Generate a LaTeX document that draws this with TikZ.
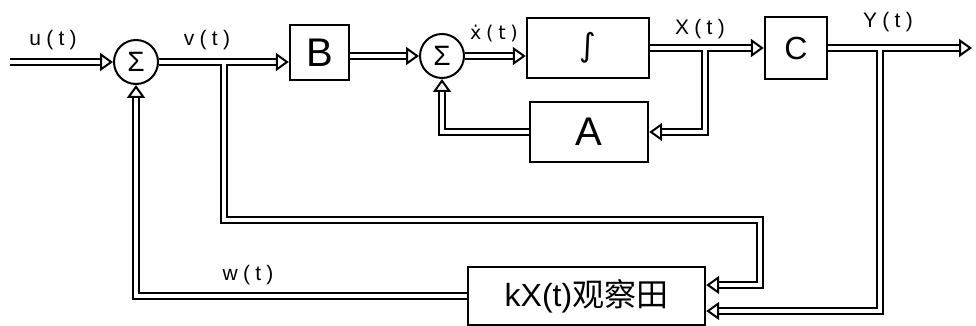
\documentclass[tikz,border=0pt]{standalone}
\usepackage{fontspec}
\setmainfont{Liberation Sans}
\newfontfamily\cjk{Noto Sans CJK SC}
\newfontfamily\dvs{DejaVu Sans}
\newfontfamily\lab[LetterSpace=25]{Liberation Sans}
\newfontfamily\dlab[LetterSpace=25]{DejaVu Sans}
\usetikzlibrary{arrows.meta}
\tikzset{
  shaft/.style={draw=black, line width=2.2pt, double=white, double distance=3.2pt, shorten >=11pt},
  tipov/.style={draw=white, line width=1pt, -{Triangle[color=black, fill=white, line width=2pt, length=13pt, width=18pt]}},
  blk/.style={draw, line width=2.4pt, inner sep=0pt},
  sumnode/.style={circle, draw, line width=2pt, minimum size=44pt, inner sep=0pt, font=\fontsize{28}{28}\selectfont},
  siglab/.style={font=\lab\fontsize{21}{21}\selectfont, inner sep=0pt}
}
\newcommand\sigline[1]{\draw[shaft] #1; \draw[tipov] #1;}
\begin{document}
\begin{tikzpicture}[x=1pt, y=-1pt]
\useasboundingbox[fill=white] (0,0) rectangle (976,326);
% blocks
\node[sumnode] (s1) at (136,62) {Σ};
\node[blk, minimum width=59pt, minimum height=55pt, font=\fontsize{40}{40}\selectfont] (B) at (319.5,52.5) {B};
\node[sumnode] (s2) at (442,56) {Σ};
\node[blk, minimum width=122pt, minimum height=60pt, font=\dvs\fontsize{32}{32}\selectfont] (I) at (588,48) {∫};
\node[blk, minimum width=118pt, minimum height=60pt, font=\fontsize{40}{40}\selectfont] (A) at (589,132) {A};
\node[blk, minimum width=62pt, minimum height=62pt, font=\fontsize{32}{32}\selectfont] (C) at (796,48) {C};
\node[blk, minimum width=237pt, minimum height=58pt, font=\fontsize{32}{32}\selectfont] (O) at (586.5,296) {kX(t)\cjk 观察田\hspace{14pt}};
% coordinates
\coordinate (in) at (10,62);
\coordinate (out) at (972,48);
\coordinate (j1) at (224,62);
\coordinate (j2) at (705,48);
\coordinate (j3) at (880,48);
\coordinate (c1) at (760,220);
% signal lines
\sigline{(in) -- (s1)}
\sigline{(s1) -- (B.west |- s1)}
\sigline{(B.east |- s2) -- (s2)}
\sigline{(s2) -- (s2 -| I.west)}
\sigline{(I) -- (C)}
\sigline{(C) -- (out)}
\sigline{([yshift=-1.6pt]j2) |- (A)}
\sigline{(A) -| (s2)}
\sigline{([yshift=-1.6pt]j1) |- (c1) |- ([yshift=11pt]O.east)}
\sigline{([yshift=-1.6pt]j3) |- ([yshift=-15pt]O.east)}
\sigline{(O) -| (s1)}
% labels
\node[siglab] (lu) at (53,40) {u(t)};
\node[siglab] (lv) at (207,40) {v(t)};
\node[siglab, font=\dlab\fontsize{19}{19}\selectfont] (lxd) at (494,34) {ẋ(t)};
\node[siglab] (lx) at (700,29) {X(t)};
\node[siglab] (ly) at (888,22) {Y(t)};
\node[siglab] (lw) at (248,275) {w(t)};
\end{tikzpicture}
\end{document}
